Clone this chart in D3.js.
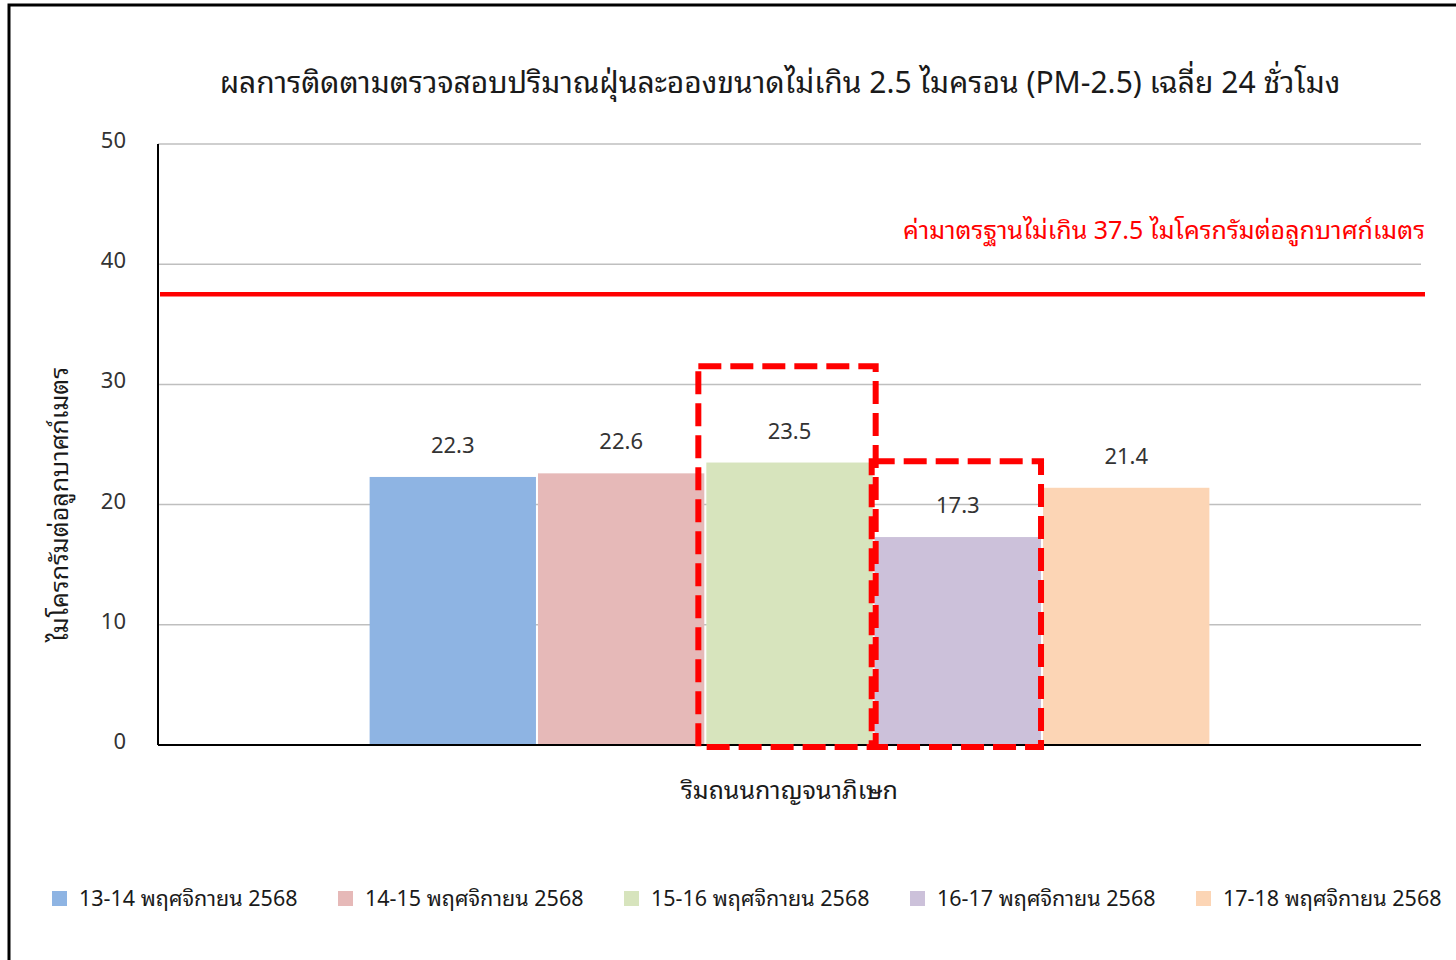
<!DOCTYPE html>
<html>
<head>
<meta charset="utf-8">
<script src="https://cdn.jsdelivr.net/npm/d3@7"></script>
<style>
  html, body { margin: 0; padding: 0; background: #fff; }
  svg text { font-family: "Noto Sans Thai Looped", "Noto Sans Thai", "Noto Sans", Tahoma, sans-serif; }
</style>
</head>
<body>
<svg id="chart" width="1456" height="960"></svg>
<script>
// PM-2.5 24-hour averages at the Kanchanaphisek roadside station
const category = "ริมถนนกาญจนาภิเษก";
const seriesNames = [
  "13-14 พฤศจิกายน 2568",
  "14-15 พฤศจิกายน 2568",
  "15-16 พฤศจิกายน 2568",
  "16-17 พฤศจิกายน 2568",
  "17-18 พฤศจิกายน 2568"
];
const seriesValues = [22.3, 22.6, 23.5, 17.3, 21.4];
const seriesColors = ["#8eb4e3", "#e6b9b8", "#d7e4bd", "#ccc1da", "#fcd5b5"];
const yTicks = [0, 10, 20, 30, 40, 50];
const standardValue = 37.5;
const standardLabel = "ค่ามาตรฐานไม่เกิน 37.5 ไมโครกรัมต่อลูกบาศก์เมตร";
const titleText = "ผลการติดตามตรวจสอบปริมาณฝุ่นละอองขนาดไม่เกิน 2.5 ไมครอน (PM-2.5) เฉลี่ย 24 ชั่วโมง";
const yAxisTitle = "ไมโครกรัมต่อลูกบาศก์เมตร";
// highlighted days (index into series) and the top of each highlight frame
const highlightSeries = [2, 3];
const highlightTop = [31.5, 23.6];

const svg = d3.select("#chart");
const plot = { left: 158, right: 1421, top: 144, bottom: 745 };

const y = d3.scaleLinear().domain([0, 50]).range([plot.bottom, plot.top]);
const xOuter = d3.scaleBand().domain([category]).range([plot.left, plot.right]).paddingInner(0).paddingOuter(0.252);
const xInner = d3.scaleBand().domain(seriesNames).range([0, xOuter.bandwidth()]).paddingInner(0.012);

// frame
svg.append("path")
  .attr("d", "M9,960 L9,5 L1456,5")
  .attr("fill", "none").attr("stroke", "#000").attr("stroke-width", 3);

// title
svg.append("text")
  .attr("x", 780).attr("y", 93)
  .attr("text-anchor", "middle")
  .attr("font-size", 30).attr("fill", "#1a1a1a")
  .text(titleText);

// gridlines
svg.append("g").selectAll("line")
  .data(yTicks.filter(d => d > 0))
  .join("line")
  .attr("x1", plot.left).attr("x2", plot.right)
  .attr("y1", d => y(d)).attr("y2", d => y(d))
  .attr("stroke", "#bfbfbf").attr("stroke-width", 1.5);

// y tick labels
svg.append("g").selectAll("text")
  .data(yTicks)
  .join("text")
  .attr("x", 126).attr("y", d => y(d) + 4)
  .attr("text-anchor", "end")
  .attr("font-size", 22).attr("fill", "#333")
  .text(d => d);

// y axis title
svg.append("text")
  .attr("transform", `translate(68,${(plot.top + plot.bottom) / 2 + 60}) rotate(-90)`)
  .attr("text-anchor", "middle")
  .attr("font-size", 25).attr("fill", "#1a1a1a")
  .text(yAxisTitle);

// bars
const groupX = xOuter(category);
svg.append("g").selectAll("rect")
  .data(seriesValues)
  .join("rect")
  .attr("x", (d, i) => groupX + xInner(seriesNames[i]))
  .attr("width", xInner.bandwidth())
  .attr("y", d => y(d))
  .attr("height", d => y(0) - y(d))
  .attr("fill", (d, i) => seriesColors[i]);

// value labels
svg.append("g").selectAll("text")
  .data(seriesValues)
  .join("text")
  .attr("x", (d, i) => groupX + xInner(seriesNames[i]) + xInner.bandwidth() / 2)
  .attr("y", d => y(d) - 24)
  .attr("text-anchor", "middle")
  .attr("font-size", 22).attr("fill", "#333")
  .text(d => d.toFixed(1));

// axes lines
svg.append("line")
  .attr("x1", plot.left).attr("x2", plot.left)
  .attr("y1", plot.top).attr("y2", plot.bottom)
  .attr("stroke", "#000").attr("stroke-width", 2);
svg.append("line")
  .attr("x1", plot.left).attr("x2", plot.right)
  .attr("y1", plot.bottom).attr("y2", plot.bottom)
  .attr("stroke", "#000").attr("stroke-width", 2);

// category label
svg.append("text")
  .attr("x", groupX + xOuter.bandwidth() / 2).attr("y", 799)
  .attr("text-anchor", "middle")
  .attr("font-size", 25).attr("fill", "#1a1a1a")
  .text(category);

// standard limit line and label
svg.append("line")
  .attr("x1", plot.left + 2).attr("x2", 1425)
  .attr("y1", y(standardValue)).attr("y2", y(standardValue))
  .attr("stroke", "#ff0000").attr("stroke-width", 4.5);
svg.append("text")
  .attr("x", 1425).attr("y", 239)
  .attr("text-anchor", "end")
  .attr("font-size", 25).attr("fill", "#ff0000")
  .text(standardLabel);

// dashed highlight frames around selected days
svg.append("g").selectAll("rect")
  .data(highlightSeries)
  .join("rect")
  .attr("x", (s, k) => groupX + xInner(seriesNames[s]) - (k === 0 ? 8 : 3))
  .attr("width", (s, k) => xInner.bandwidth() + (k === 0 ? 11 : 3))
  .attr("y", (s, k) => y(highlightTop[k]))
  .attr("height", (s, k) => y(0) + 2 - y(highlightTop[k]))
  .attr("fill", "none")
  .attr("stroke", "#ff0000").attr("stroke-width", 6)
  .attr("stroke-dasharray", "23 9");

// legend
const legend = svg.append("g").selectAll("g")
  .data(seriesNames)
  .join("g")
  .attr("transform", (d, i) => `translate(${52 + i * 286},891)`);
legend.append("rect")
  .attr("width", 15).attr("height", 15)
  .attr("fill", (d, i) => seriesColors[i]);
legend.append("text")
  .attr("x", 27).attr("y", 15)
  .attr("font-size", 21.5).attr("fill", "#1a1a1a")
  .text(d => d);
</script>
</body>
</html>
